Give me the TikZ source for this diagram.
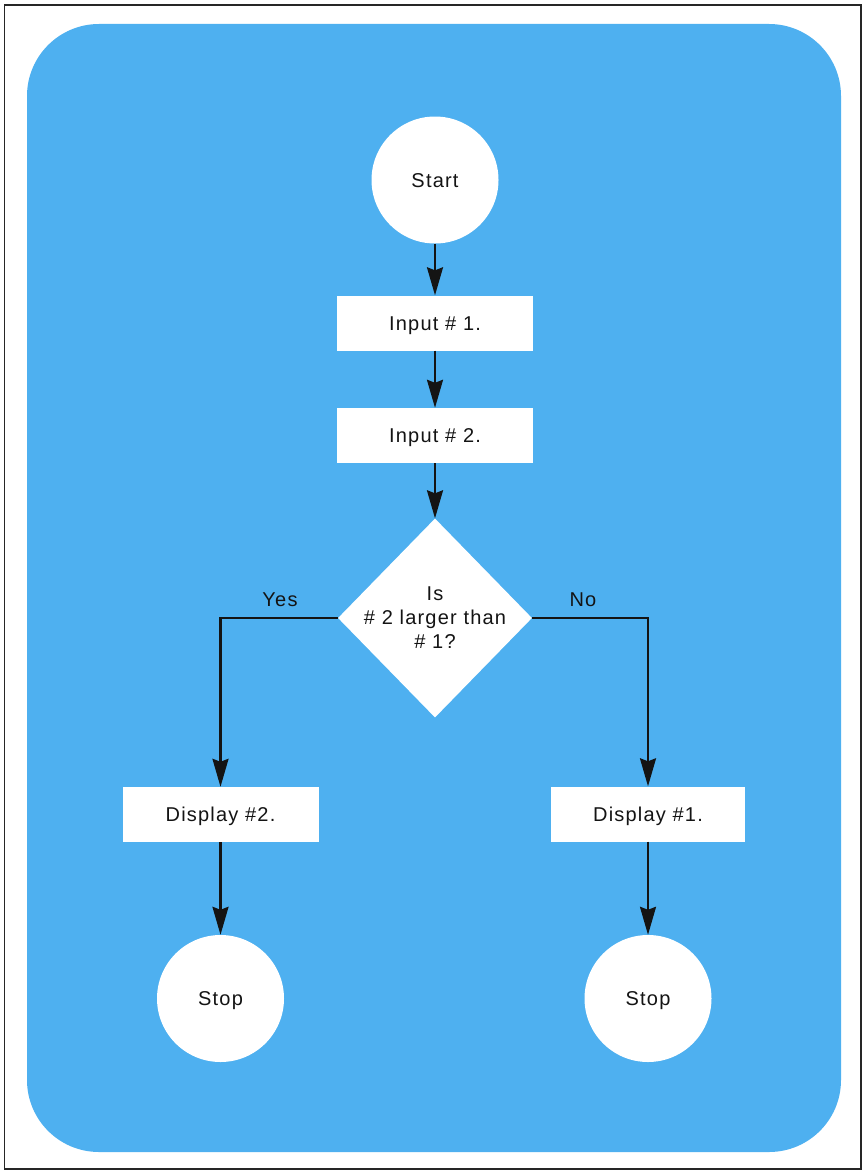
\documentclass[tikz,border=0pt]{standalone}
\usepackage{fontspec}
\setmainfont{Liberation Sans}[LetterSpace=6]
\usetikzlibrary{shapes.geometric,arrows.meta}
\definecolor{skyblue}{RGB}{78,176,240}
\definecolor{inkblack}{RGB}{20,20,20}
\begin{document}
\begin{tikzpicture}[x=1pt,y=-1pt,
  txt/.style={font=\fontsize{20pt}{24pt}\selectfont, text=inkblack},
  termnode/.style={circle, fill=white, minimum size=127pt, inner sep=0pt, txt, text height=14.4pt, text depth=0pt},
  procbox/.style={rectangle, fill=white, minimum width=196pt, minimum height=55pt, inner sep=0pt, txt, text height=14.4pt, text depth=0pt},
  decbox/.style={diamond, fill=white, minimum width=194pt, minimum height=199pt, inner sep=0pt},
  flow/.style={draw=inkblack, line width=2.2pt, -{Stealth[length=28pt,width=16pt,inset=3pt]}},
  branchlabel/.style={txt, text height=14.4pt, text depth=0pt}]
\useasboundingbox (0,0) rectangle (864,1172);
\fill[white] (0,0) rectangle (864,1172);
\draw[black!85, line width=1.5pt] (4.5,5) rectangle (861,1169);
\fill[skyblue, rounded corners=72pt] (27,24) rectangle (841,1152);

\node[termnode] (start) at (435,180) {Start};
\node[procbox] (in1) at (435,323) {Input \# 1.};
\node[procbox] (in2) at (435,435.5) {Input \# 2.};
\node[decbox] (dec) at (435,618) {};
\node[txt, align=center, inner sep=0pt] (dectext) at (435,618) {Is\\\# 2 larger than\\\# 1?};
\node[procbox] (disp2) at (220.5,814.5) {Display \#2.};
\node[procbox, minimum width=194pt] (disp1) at (648,814) {Display \#1.};
\node[termnode] (stop2) at (220.5,998.5) {Stop};
\node[termnode] (stop1) at (648,998.5) {Stop};

\node[branchlabel] (yes) at (280,599) {Yes};
\node[branchlabel] (no) at (583,599) {No};

\draw[flow] (start) -- (in1);
\draw[flow] (in1) -- (in2);
\draw[flow] (in2) -- (dec);
\draw[flow] (dec.west) -| (disp2.north);
\draw[flow] (dec.east) -| (disp1.north);
\draw[flow] (disp2) -- (stop2);
\draw[flow] (disp1) -- (stop1);
\end{tikzpicture}
\end{document}
